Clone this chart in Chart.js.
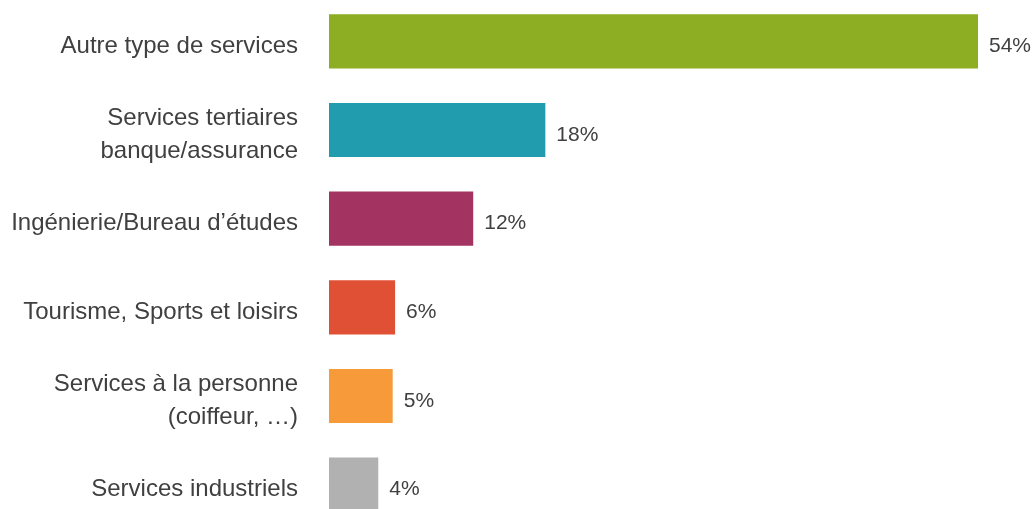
<!DOCTYPE html>
<html lang="fr">
<head>
<meta charset="utf-8">
<title>Type de services</title>
<script src="https://cdn.jsdelivr.net/npm/chart.js@4.4.1/dist/chart.umd.min.js"></script>
<style>
  html, body { margin: 0; padding: 0; background: #fff; overflow: hidden; }
  body { width: 1034px; height: 509px; position: relative; }
  #wrap { position: absolute; left: 0; top: -3px; width: 1034px; height: 532px; }
</style>
</head>
<body>
<div id="wrap"><canvas id="chartServices" width="1034" height="532"></canvas></div>
<script>
// Data
const categories = [
    'Autre type de services',
    ['Services tertiaires', 'banque/assurance'],
    'Ingénierie/Bureau d\u2019études',
    'Tourisme, Sports et loisirs',
    ['Services à la personne', '(coiffeur, \u2026)'],
    'Services industriels'
];
const values = [54, 18, 12, 5.5, 5.3, 4.1];
const valueLabels = ['54%', '18%', '12%', '6%', '5%', '4%'];
const barColors = ['#8dad22', '#219caf', '#a33462', '#e05035', '#f79a3a', '#b1b1b1'];

const FONT = "'Liberation Sans', Arial, sans-serif";
const TEXT_COLOR = '#404040';

// Plugin : étiquettes de valeur à droite des barres
const valueLabelPlugin = {
    id: 'valueLabels',
    afterDatasetsDraw(chart) {
        const ctx = chart.ctx;
        const meta = chart.getDatasetMeta(0);
        ctx.save();
        ctx.font = '21px ' + FONT;
        ctx.fillStyle = TEXT_COLOR;
        ctx.textAlign = 'left';
        ctx.textBaseline = 'middle';
        meta.data.forEach((bar, i) => {
            ctx.fillText(valueLabels[i], bar.x + 11, bar.y + 5);
        });
        ctx.restore();
    }
};

const ctx = document.getElementById('chartServices').getContext('2d');
new Chart(ctx, {
    type: 'bar',
    data: {
        labels: categories,
        datasets: [{
            data: values,
            backgroundColor: barColors,
            borderWidth: 0,
            barPercentage: 0.61,
            categoryPercentage: 1
        }]
    },
    options: {
        indexAxis: 'y',
        responsive: false,
        animation: false,
        devicePixelRatio: 1,
        layout: {
            padding: { left: 0, right: 56, top: 0, bottom: 0 }
        },
        plugins: {
            legend: { display: false },
            tooltip: { enabled: false }
        },
        scales: {
            x: {
                display: false,
                min: 0,
                max: 54
            },
            y: {
                grid: { display: false, drawTicks: false },
                border: { display: false },
                // largeur fixe de l'axe, pas de marge auto en haut/bas
                afterFit: (scale) => {
                    scale.width = 329;
                    scale.paddingTop = 0;
                    scale.paddingBottom = 0;
                },
                ticks: {
                    padding: 31,
                    labelOffset: 5,
                    color: TEXT_COLOR,
                    font: { family: FONT, size: 24, lineHeight: 1.4 }
                }
            }
        }
    },
    plugins: [valueLabelPlugin]
});
</script>
</body>
</html>
